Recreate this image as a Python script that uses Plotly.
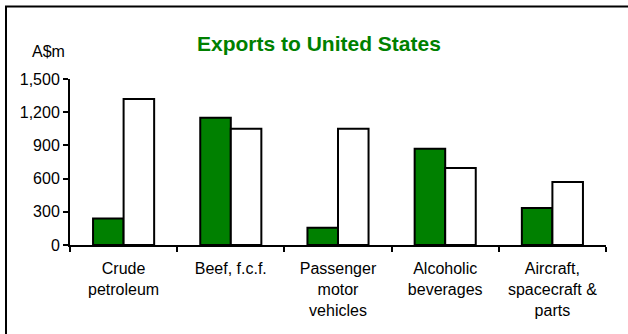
import plotly.graph_objects as go

categories = ["Crude<br>petroleum", "Beef, f.c.f.", "Passenger<br>motor<br>vehicles",
              "Alcoholic<br>beverages", "Aircraft,<br>spacecraft &<br>parts"]
series_green = [240, 1150, 155, 870, 335]
series_white = [1320, 1050, 1050, 695, 570]
y_ticks = [0, 300, 600, 900, 1200, 1500]

GREEN = "#008000"
FONT = "Liberation Sans, Arial, sans-serif"

fig = go.Figure()
fig.add_trace(go.Bar(x=categories, y=series_green, name="Earlier",
                     marker=dict(color=GREEN, line=dict(color="black", width=2))))
fig.add_trace(go.Bar(x=categories, y=series_white, name="Later",
                     marker=dict(color="white", line=dict(color="black", width=2))))

fig.update_layout(
    width=628, height=334,
    margin=dict(l=70, r=22, t=79, b=89),
    paper_bgcolor="white", plot_bgcolor="white",
    barmode="group", bargap=0.43, bargroupgap=0,
    showlegend=False,
    font=dict(family=FONT, size=16, color="black"),
)
fig.update_xaxes(showline=True, linecolor="black", linewidth=2,
                 ticks="outside", tickson="boundaries", ticklen=5, tickwidth=2,
                 tickcolor="black", showgrid=False, automargin=False,
                 ticklabelstandoff=8, tickfont=dict(size=16))
fig.update_yaxes(range=[0, 1500], tickvals=y_ticks, tickformat=",",
                 showline=True, linecolor="black", linewidth=2,
                 ticks="outside", ticklen=5, tickwidth=2, tickcolor="black",
                 showgrid=False, zeroline=False, automargin=False,
                 tickfont=dict(size=16))

# title and unit label
fig.add_annotation(text="<b>Exports to United States</b>", xref="paper", yref="paper",
                   x=0.4646, y=1.213, xanchor="center", yanchor="middle",
                   showarrow=False, font=dict(size=21, color=GREEN))
fig.add_annotation(text="A$m", xref="paper", yref="paper",
                   x=-0.041, y=1.165, xanchor="center", yanchor="middle",
                   showarrow=False, font=dict(size=16))

# outer frame (cut off at right and bottom)
fig.add_shape(type="rect", xref="paper", yref="paper",
              x0=-0.1194, x1=1.06, y0=-0.6, y1=1.4363,
              line=dict(color="black", width=2), layer="below")

# drop the page's default body margin so the figure sits at the window's corner
fig.write_html("out.html", config={"displayModeBar": False},
               post_script="document.body.style.margin='0';")
